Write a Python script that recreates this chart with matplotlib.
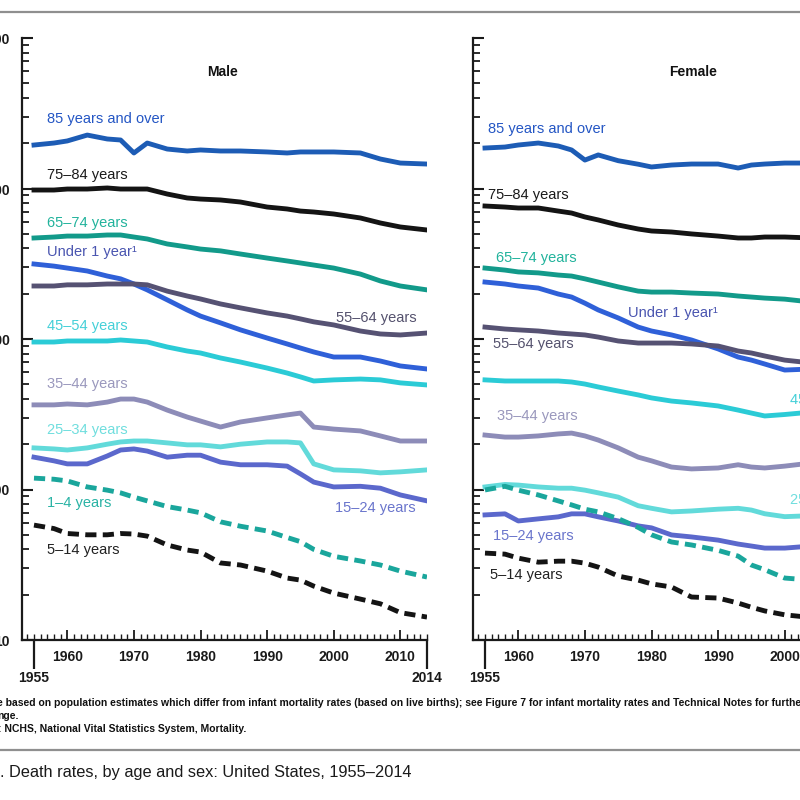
import matplotlib
matplotlib.use('Agg')
import matplotlib.pyplot as plt
from matplotlib.ticker import LogLocator, FixedLocator, MultipleLocator, FuncFormatter, NullFormatter
from matplotlib.lines import Line2D

plt.rcParams['font.family'] = ['Liberation Sans', 'DejaVu Sans']

years = [1955, 1958, 1960, 1963, 1966, 1968, 1970, 1972, 1975, 1978, 1980,
         1983, 1986, 1990, 1993, 1995, 1997, 2000, 2004, 2007, 2010, 2014]

# Deaths per 100,000 population
male_85 = [19450, 20050, 20700, 22650, 21330, 21000, 17220, 20050, 18290, 17750, 18030,
           17750, 17750, 17490, 17220, 17490, 17490, 17490, 17220, 15700, 14760, 14540]
male_75 = [9770, 9770, 9920, 9920, 10080, 9920, 9920, 9920, 9190, 8650, 8510,
           8390, 8130, 7530, 7310, 7080, 6980, 6770, 6370, 5900, 5550, 5300]
male_65 = [4690, 4760, 4830, 4830, 4910, 4910, 4760, 4620, 4280, 4090, 3960,
           3850, 3670, 3450, 3300, 3200, 3100, 2960, 2700, 2430, 2250, 2120]
male_u1 = [3150, 3050, 2960, 2830, 2620, 2510, 2320, 2120, 1820, 1560, 1420,
           1280, 1150, 1015, 927, 871, 820, 759, 759, 714, 662, 632]
male_55 = [2250, 2250, 2290, 2290, 2320, 2320, 2320, 2290, 2080, 1930, 1845,
           1710, 1610, 1490, 1420, 1360, 1300, 1240, 1130, 1080, 1064, 1096]
male_45 = [955, 955, 970, 970, 970, 985, 970, 955, 885, 832, 807,
           748, 703, 641, 594, 560, 526, 535, 542, 535, 511, 495]
male_35 = [365, 365, 370, 365, 381, 399, 399, 381, 337, 303, 285,
           260, 281, 299, 313, 322, 260, 252, 245, 227, 210, 210]
male_25 = [189, 186, 183, 189, 200, 207, 210, 210, 204, 198, 198,
           192, 200, 207, 207, 204, 148, 135, 133, 129, 131, 135]
male_15 = [164, 155, 148, 148, 167, 183, 186, 180, 164, 169, 169,
           152, 146, 146, 143, 127, 112, 104, 105, 102, 92, 84]
male_1_4 = [119, 117, 114, 104, 99, 95, 89, 84, 77, 73, 70,
            61, 57, 53, 48, 45, 40, 36, 33.5, 31.5, 28.7, 26.2]
male_5_14 = [58, 55, 51, 50, 50, 51, 50.6, 49, 42.8, 39.6, 38.4,
             32.5, 31.5, 28.7, 25.8, 25.0, 22.8, 20.5, 18.7, 17.4, 15.2, 14.2]

female_85 = [18580, 18860, 19450, 20050, 19160, 18030, 15450, 16710, 15300, 14500, 13900,
             14320, 14540, 14540, 13680, 14320, 14540, 14760, 14760, 14320, 13680, 13270]
female_75 = [7650, 7530, 7420, 7420, 7080, 6870, 6470, 6180, 5720, 5380, 5220,
             5140, 4990, 4830, 4690, 4690, 4760, 4760, 4690, 4410, 4150, 3900]
female_65 = [2960, 2870, 2790, 2750, 2660, 2620, 2510, 2390, 2220, 2080, 2050,
             2050, 2020, 1990, 1930, 1900, 1870, 1840, 1760, 1660, 1560, 1490]
female_u1 = [2390, 2320, 2250, 2180, 1990, 1900, 1730, 1560, 1380, 1200, 1130,
             1064, 985, 859, 759, 724, 682, 622, 632, 604, 551, 518]
female_55 = [1200, 1165, 1150, 1130, 1096, 1080, 1064, 1030, 970, 940, 940,
             940, 927, 898, 832, 807, 771, 724, 693, 662, 641, 641]
female_45 = [535, 526, 526, 526, 526, 518, 502, 480, 451, 425, 406,
             387, 376, 359, 337, 322, 308, 315, 327, 327, 335, 335]
female_35 = [230, 223, 223, 227, 234, 237, 227, 213, 189, 164, 155,
             141, 137, 139, 146, 141, 139, 143, 150, 152, 152, 157]
female_25 = [104, 108, 107, 104, 102, 102, 99, 95, 89, 78, 75,
             71, 72, 74, 75, 73, 69, 66, 67, 68, 69, 71]
female_15 = [67.8, 68.9, 61.8, 63.8, 65.8, 68.9, 68.9, 65.8, 61.8, 57.3, 55.6,
             49.9, 48.4, 46.1, 43.4, 42.1, 40.8, 40.8, 42.1, 41.4, 38.4, 37.2]
female_1_4 = [99.3, 105, 99, 92, 84, 79, 74, 71, 64, 56, 50,
              44.8, 42.8, 39.4, 36.1, 31.5, 29.3, 25.8, 25, 24, 22.3, 21.4]
female_5_14 = [37.8, 37.2, 35.0, 32.9, 33.4, 33.4, 32.4, 30.5, 26.6, 25.0, 23.6,
               22.5, 19.3, 19.0, 17.6, 16.5, 15.6, 14.7, 14.1, 13.7, 12.6, 12.1]

age_groups = ['85 years and over', '75\u201384 years', '65\u201374 years', 'Under 1 year\u00b9',
              '55\u201364 years', '45\u201354 years', '35\u201344 years', '25\u201334 years',
              '15\u201324 years', '1\u20134 years', '5\u201314 years']
male_series = [male_85, male_75, male_65, male_u1, male_55, male_45, male_35, male_25,
               male_15, male_1_4, male_5_14]
female_series = [female_85, female_75, female_65, female_u1, female_55, female_45, female_35,
                 female_25, female_15, female_1_4, female_5_14]

line_colors = ['#1d5cb5', '#141414', '#129a8a', '#2f60d8', '#565273', '#2bcbd6',
               '#8d8cb8', '#62dada', '#5b68cc', '#1aa69c', '#141414']
label_colors = ['#2456c4', '#1a1a1a', '#22b39c', '#4a55b0', '#55526e', '#45d0d8',
                '#9a98bd', '#70dede', '#6a75cc', '#2ab3a5', '#222222']
dashed = [False] * 9 + [True, True]

# label placement (axes fraction) per panel
male_label_pos = [(0.062, 0.865), (0.062, 0.772), (0.062, 0.692), (0.062, 0.644),
                  (0.775, 0.535), (0.062, 0.521), (0.062, 0.425), (0.062, 0.349),
                  (0.773, 0.219), (0.062, 0.227), (0.062, 0.149)]
female_label_pos = [(0.037, 0.849), (0.037, 0.739), (0.057, 0.635), (0.383, 0.543),
                    (0.049, 0.492), (0.783, 0.399), (0.059, 0.372), (0.783, 0.233),
                    (0.049, 0.173), None, (0.042, 0.108)]

fig = plt.figure(figsize=(8, 8), dpi=100)
W, H = 800.0, 800.0
ax_w, ax_h = 405 / W, 602 / H
ax_m = fig.add_axes([22 / W, 160 / H, ax_w, ax_h])
ax_f = fig.add_axes([473 / W, 160 / H, ax_w, ax_h])


def style_axis(ax, show_ylabels):
    ax.set_yscale('log')
    ax.set_ylim(10, 100000)
    ax.set_xlim(1953.2, 2014)
    for s in ['top', 'right']:
        ax.spines[s].set_visible(False)
    for s in ['left', 'bottom']:
        ax.spines[s].set_linewidth(1.6)
        ax.spines[s].set_color('#1a1a1a')
    ax.yaxis.set_major_locator(LogLocator(base=10, numticks=10))
    ax.yaxis.set_minor_locator(LogLocator(base=10, subs=range(2, 10), numticks=20))
    ax.yaxis.set_minor_formatter(NullFormatter())
    ax.yaxis.set_major_formatter(FuncFormatter(lambda v, _: f'{int(round(v)):,}'))
    ax.tick_params(axis='y', which='major', direction='in', length=8, width=1.5,
                   pad=8.8, labelsize=10, labelleft=show_ylabels, colors='#1a1a1a')
    ax.tick_params(axis='y', which='minor', direction='in', length=5, width=1.3, colors='#1a1a1a')
    ax.xaxis.set_major_locator(FixedLocator(list(range(1960, 2011, 10))))
    ax.xaxis.set_minor_locator(MultipleLocator(1))
    ax.tick_params(axis='x', which='major', direction='in', length=7, width=1.3,
                   pad=7, labelsize=10, colors='#1a1a1a')
    ax.tick_params(axis='x', which='minor', direction='in', length=4, width=1.0, colors='#1a1a1a')
    for lab in ax.get_xticklabels() + ax.get_yticklabels():
        lab.set_fontweight('bold')
    sec = ax.secondary_xaxis('bottom')
    sec.set_xticks([1955, 2014])
    sec.set_xticklabels(['1955', '2014'])
    sec.tick_params(axis='x', direction='out', length=21, width=1.6, pad=1.5,
                    labelsize=10, colors='#1a1a1a')
    sec.spines['bottom'].set_visible(False)
    for lab in sec.get_xticklabels():
        lab.set_fontweight('bold')


def draw_panel(ax, series, label_pos, title, title_x):
    for vals, lc, tc, dsh, name, pos in zip(series, line_colors, label_colors, dashed,
                                             age_groups, label_pos):
        if dsh:
            ax.plot(years, vals, color=lc, lw=3.5, dashes=(2.3, 1.3),
                    solid_capstyle='butt', dash_capstyle='butt')
        else:
            ax.plot(years, vals, color=lc, lw=3.5, solid_joinstyle='round')
        if pos is not None:
            ax.text(pos[0], pos[1], name, transform=ax.transAxes, color=tc,
                    fontsize=10.5, ha='left', va='center', clip_on=False)
    ax.text(title_x, 0.9435, title, transform=ax.transAxes, fontsize=10,
            fontweight='bold', ha='center', va='center', color='#111111')


style_axis(ax_m, True)
style_axis(ax_f, False)
draw_panel(ax_m, male_series, male_label_pos, 'Male', 0.494)
draw_panel(ax_f, female_series, female_label_pos, 'Female', 0.543)

# rules
fig.add_artist(Line2D([0, 1], [1 - 12 / H, 1 - 12 / H], color='#8f8f8f', lw=1.6,
                      transform=fig.transFigure))
fig.add_artist(Line2D([0, 1], [1 - 750 / H, 1 - 750 / H], color='#8f8f8f', lw=1.6,
                      transform=fig.transFigure))

# footnotes (cropped at the left edge as in the reference)
fig.text(-0.004, 1 - 703 / H,
         'e based on population estimates which differ from infant mortality rates (based on live births); '
         'see Figure 7 for infant mortality rates and Technical Notes for further discussion.',
         fontsize=7.5, fontweight='bold', ha='left', va='center', color='#111111')
fig.text(-0.003, 1 - 716 / H, 'nge.', fontsize=7.5, fontweight='bold',
         ha='left', va='center', color='#111111')
fig.text(-0.002, 1 - 729 / H, ': NCHS, National Vital Statistics System, Mortality.',
         fontsize=7.5, fontweight='bold', ha='left', va='center', color='#111111')

fig.text(0.0, 1 - 773 / H, 'Figure 5', fontsize=11.8, ha='right', va='center', color='#1a1a1a')
fig.text(0.0, 1 - 773 / H, '. Death rates, by age and sex: United States, 1955\u20132014',
         fontsize=11.8, ha='left', va='center', color='#1a1a1a')

fig.savefig('out.png', dpi=100)
